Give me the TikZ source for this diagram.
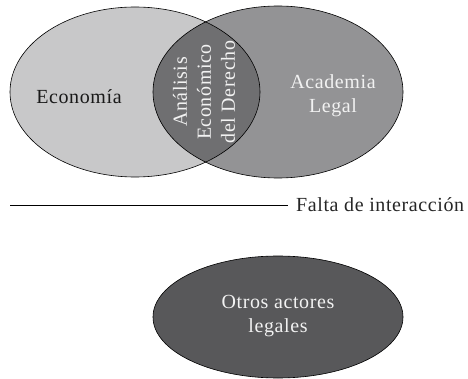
\documentclass[tikz,border=0pt]{standalone}
\usepackage{fontspec}
\setmainfont{Liberation Serif}[LetterSpace=3]
\begin{document}
\begin{tikzpicture}[x=1pt,y=-1pt,
  blob/.style={draw=black,line width=0.6pt},
  lbl/.style={font=\fontsize{20}{24}\selectfont,align=center,inner sep=0pt}]
\useasboundingbox (0,0) rectangle (468,379);
\definecolor{cEco}{HTML}{C8C8C9}
\definecolor{cAca}{HTML}{939395}
\definecolor{cAed}{HTML}{6F6F71}
\definecolor{cOtr}{HTML}{58585A}
\definecolor{cTxt}{HTML}{F2F2F2}
\fill[cEco] (135,92) ellipse [x radius=125, y radius=85];
\fill[cAca] (278,92) ellipse [x radius=125, y radius=86];
\begin{scope}
  \clip (135,92) ellipse [x radius=125, y radius=85];
  \fill[cAed] (278,92) ellipse [x radius=125, y radius=86];
\end{scope}
\draw[blob] (135,92) ellipse [x radius=125, y radius=85];
\draw[blob] (278,92) ellipse [x radius=125, y radius=86];
\node[lbl,text=black!90] (eco) at (79,97) {Economía};
\node[lbl,text=cTxt] (aca) at (333,96) {Academia\\Legal};
\node[lbl,text=cTxt,rotate=90] (aed) at (204,92) {Análisis\\Económico\\del Derecho};
\coordinate (lineL) at (10,205);
\node[lbl,anchor=west,text=black!85] (falta) at (296,205) {Falta de interacción};
\draw[line width=0.6pt] (lineL) -- ([xshift=-8pt]falta.west);
\fill[cOtr] (278,317) ellipse [x radius=125, y radius=61];
\draw[blob] (278,317) ellipse [x radius=125, y radius=61];
\node[lbl,text=cTxt] (otros) at (278,316) {Otros actores\\legales};
\end{tikzpicture}
\end{document}
